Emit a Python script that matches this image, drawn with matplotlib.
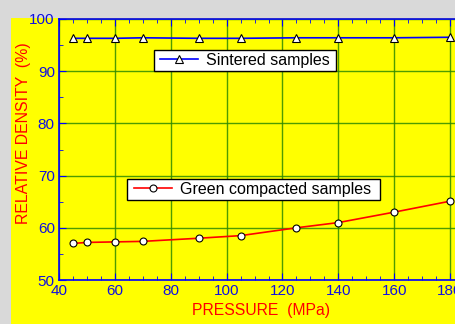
import matplotlib
matplotlib.use('Agg')
import matplotlib.pyplot as plt
from matplotlib.patches import Rectangle
from matplotlib.ticker import MultipleLocator

plt.rcParams['font.family'] = ['Liberation Sans', 'DejaVu Sans']

pressure = [45, 50, 60, 70, 90, 105, 125, 140, 160, 180]
sintered = [96.3, 96.3, 96.3, 96.4, 96.3, 96.3, 96.4, 96.4, 96.4, 96.5]
green = [57.0, 57.2, 57.3, 57.4, 58.0, 58.5, 60.0, 61.0, 63.0, 65.1]

W, H = 456, 324
fig = plt.figure(figsize=(W / 100, H / 100), dpi=100, facecolor='#d9d9d9')
fig.patches.append(Rectangle((11 / W, 0), 1, 1 - 18 / H, transform=fig.transFigure,
                             facecolor='#ffff00', edgecolor='none', zorder=-10))

# axes runs past the right edge, like the original
ax = fig.add_axes([59 / W, 1 - 280 / H, 419 / W, 261 / H])
ax.set_facecolor('#ffff00')
ax.set_xlim(40, 190)
ax.set_ylim(50, 100)

ax.xaxis.set_major_locator(MultipleLocator(20))
ax.xaxis.set_minor_locator(MultipleLocator(5))
ax.yaxis.set_major_locator(MultipleLocator(10))
ax.yaxis.set_minor_locator(MultipleLocator(5))
ax.grid(True, which='major', color='#2e8b00', lw=1.0, alpha=0.85)
ax.set_axisbelow(True)

for s in ax.spines.values():
    s.set_color('#0000ff')
    s.set_linewidth(1.2)
ax.tick_params(which='both', direction='in', top=True, right=True, colors='#0000ff',
               labelsize=11, labelcolor='#1010e0')
ax.tick_params(which='major', length=5, pad=3)
ax.tick_params(which='minor', length=3)

l1, = ax.plot(pressure, sintered, color='#0000ff', lw=1.2, marker='^', ms=6,
              mfc='white', mec='black', mew=0.8, label='Sintered samples')
l2, = ax.plot(pressure, green, color='#ff0000', lw=1.2, marker='o', ms=5,
              mfc='white', mec='black', mew=0.8, label='Green compacted samples')

# legend boxes drawn by hand so the padding matches
boxes = [(154, 50, 336, 71), (127, 179, 380, 200)]
for x0, y0, x1, y1 in boxes:
    fig.patches.append(Rectangle((x0 / W, 1 - y1 / H), (x1 - x0) / W, (y1 - y0) / H,
                                 transform=fig.transFigure, facecolor='white',
                                 edgecolor='black', lw=1.0, zorder=5))

leg_kw = dict(fontsize=11.5, frameon=False, handlelength=2.4, handletextpad=0.5,
              borderpad=0, borderaxespad=0, bbox_transform=fig.transFigure,
              loc='center left')
leg1 = fig.legend(handles=[l1], bbox_to_anchor=(160 / W, 1 - 60.5 / H), **leg_kw)
leg1.set_zorder(6)
leg2 = fig.legend(handles=[l2], bbox_to_anchor=(134 / W, 1 - 189.5 / H), **leg_kw)
leg2.set_zorder(6)

fig.text(261 / W, 1 - 310 / H, 'PRESSURE  (MPa)', color='#ff0000', fontsize=11.3,
         ha='center', va='center')
fig.text(24 / W, 1 - 133 / H, 'RELATIVE DENSITY  (%)', color='#ff0000', fontsize=11.4,
         ha='center', va='center', rotation=90)

fig.savefig('out.png', dpi=100, facecolor=fig.get_facecolor())
